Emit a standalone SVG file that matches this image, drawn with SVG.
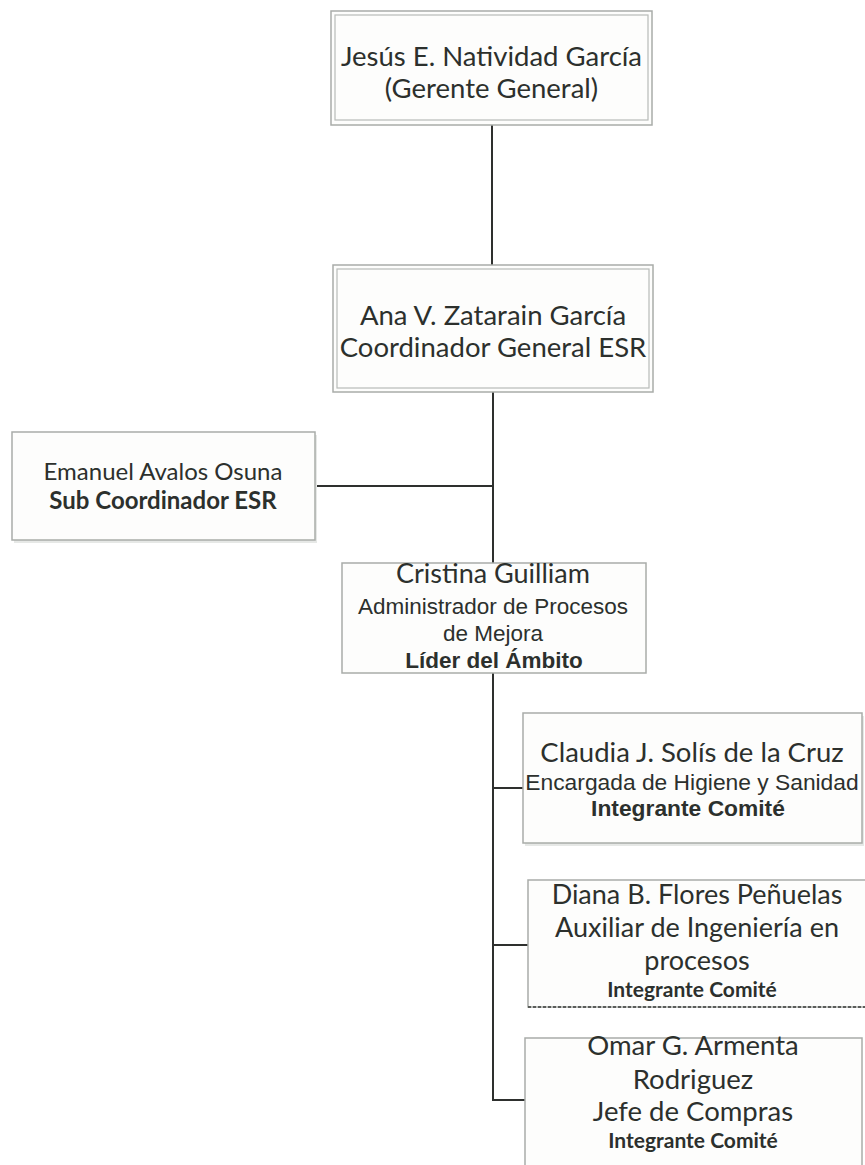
<svg xmlns="http://www.w3.org/2000/svg" width="865" height="1165" viewBox="0 0 865 1165">
<style>
.bg{fill:#ffffff}
.box{fill:#fdfdfc;stroke:#a9aca9;stroke-width:1.5}
.inner{fill:none;stroke:#b8bbb8;stroke-width:1.2}
.shadow{fill:#e6e8e6}
.conn{stroke:#2e302e;stroke-width:2;fill:none}
.c{font-family:Lato,"Open Sans","Liberation Sans",sans-serif;fill:#2c302d;text-anchor:middle}
.a{font-family:"Liberation Sans",Arial,sans-serif;fill:#2c302d;text-anchor:middle}
.b{font-weight:bold}
</style>
<rect class="bg" x="0" y="0" width="865" height="1165"/>

<g id="connectors">
<line class="conn" x1="492" y1="125" x2="492" y2="265"/>
<line class="conn" x1="493" y1="392" x2="493" y2="563"/>
<line class="conn" x1="493" y1="673" x2="493" y2="1100"/>
<line class="conn" x1="315" y1="486" x2="493" y2="486"/>
<line class="conn" x1="493" y1="788" x2="524" y2="788"/>
<line class="conn" x1="493" y1="945" x2="528" y2="945"/>
<line class="conn" x1="492" y1="1100" x2="525" y2="1100"/>
</g>

<g id="node-jesus">
<rect class="box" x="331" y="11" width="321" height="114"/>
<rect class="inner" x="335" y="15" width="313" height="105"/>
<text class="c" x="491.5" y="66" font-size="27.5">Jesús E. Natividad García</text>
<text class="c" x="491.5" y="98" font-size="27.5">(Gerente General)</text>
</g>

<g id="node-ana">
<rect class="box" x="333" y="265" width="320" height="127"/>
<rect class="inner" x="337" y="269" width="312" height="119"/>
<text class="c" x="493" y="325" font-size="27.5">Ana V. Zatarain García</text>
<text class="c" x="493" y="357" font-size="27.5">Coordinador General ESR</text>
</g>

<g id="node-emanuel">
<rect class="shadow" x="14" y="435" width="303" height="108"/>
<rect class="box" x="12" y="432" width="303" height="108"/>
<text class="c" x="163" y="480" font-size="24">Emanuel Avalos Osuna</text>
<text class="c b" x="163" y="509" font-size="24">Sub Coordinador ESR</text>
</g>

<g id="node-cristina">
<rect class="box" x="342" y="563" width="304" height="110"/>
<text class="c" x="493" y="583" font-size="27">Cristina Guilliam</text>
<text class="a" x="493" y="614" font-size="22.5">Administrador de Procesos</text>
<text class="a" x="493" y="641" font-size="22.5">de Mejora</text>
<text class="a b" x="494" y="668" font-size="22.5">Líder del Ámbito</text>
</g>

<g id="node-claudia">
<rect class="shadow" x="525" y="716" width="339" height="130"/>
<rect class="box" x="523" y="713" width="339" height="130"/>
<text class="c" x="692" y="762" font-size="27.5">Claudia J. Solís de la Cruz</text>
<text class="a" x="692" y="790" font-size="22.8">Encargada de Higiene y Sanidad</text>
<text class="a b" x="688" y="816" font-size="22.8">Integrante Comité</text>
</g>

<g id="node-diana">
<rect class="box" x="528" y="880" width="340" height="127"/>
<line x1="528" y1="1007" x2="865" y2="1007" stroke="#3a3c3a" stroke-width="1.5" stroke-dasharray="3 2"/>
<text class="c" x="697" y="904" font-size="27">Diana B. Flores Peñuelas</text>
<text class="c" x="697" y="937" font-size="27">Auxiliar de Ingeniería en</text>
<text class="c" x="697" y="970" font-size="27">procesos</text>
<text class="c b" x="692" y="997" font-size="21">Integrante Comité</text>
</g>

<g id="node-omar">
<rect class="box" x="525" y="1038" width="337" height="140"/>
<text class="c" x="693" y="1055" font-size="27.5">Omar G. Armenta</text>
<text class="c" x="693" y="1089" font-size="27.5">Rodriguez</text>
<text class="c" x="693" y="1121" font-size="27.5">Jefe de Compras</text>
<text class="c b" x="693" y="1148" font-size="21">Integrante Comité</text>
</g>
</svg>
